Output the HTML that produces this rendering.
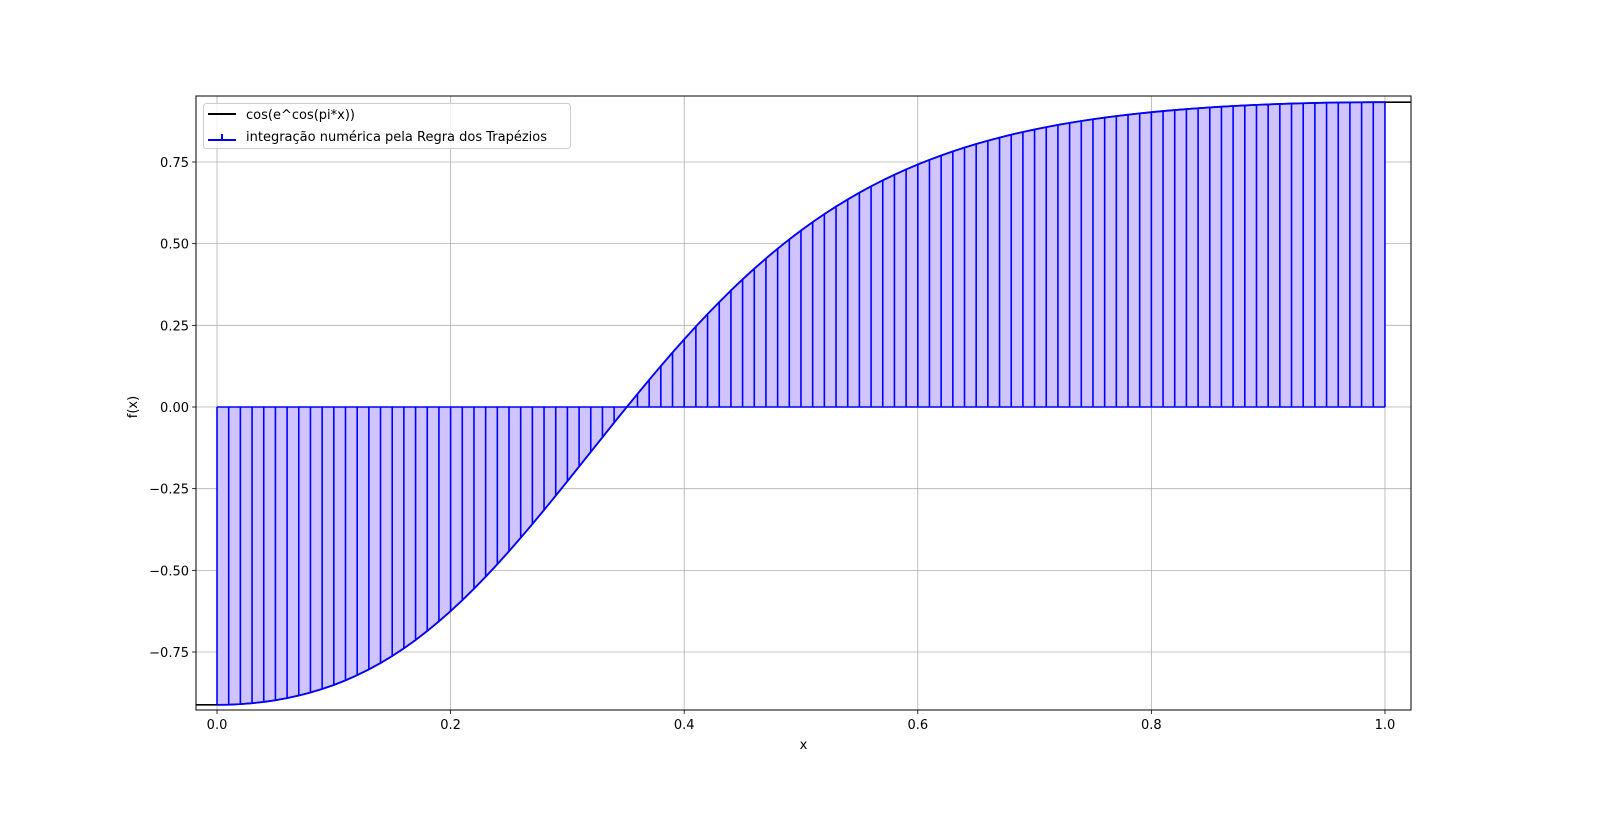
<!DOCTYPE html>
<html><head><meta charset="utf-8"><style>
body{margin:0;background:#fff}
svg text{font-family:"DejaVu Sans","Liberation Sans",sans-serif;font-size:13px;fill:#000}
</style></head><body>
<svg id="chart" width="1600" height="813" xmlns="http://www.w3.org/2000/svg">
<g id="grid"></g><g id="marks"></g><g id="axes"></g>
<g>
<rect x="203.5" y="103.5" width="367" height="45" rx="3" fill="#fff" fill-opacity="0.8" stroke="#ccc"/>
<line x1="208" y1="114" x2="236" y2="114" stroke="#000" stroke-width="2"/>
<text x="246" y="119">cos(e^cos(pi*x))</text>
<line x1="208" y1="140" x2="236" y2="140" stroke="#00f" stroke-width="2"/>
<line x1="222" y1="134" x2="222" y2="140" stroke="#00f" stroke-width="2"/>
<text x="246" y="141">integração numérica pela Regra dos Trapézios</text>
</g>
</svg>
<script>
const xStart = 0, xStep = 0.01;
const yValues = [-0.9117,-0.9112,-0.9095,-0.9067,-0.9028,-0.8976,-0.8911,-0.8833,-0.8740,-0.8632,
-0.8509,-0.8368,-0.8210,-0.8033,-0.7838,-0.7623,-0.7388,-0.7132,-0.6857,-0.6562,
-0.6248,-0.5915,-0.5564,-0.5197,-0.4813,-0.4415,-0.4005,-0.3584,-0.3153,-0.2716,
-0.2272,-0.1825,-0.1376,-0.0928,-0.0481,-0.0038,0.0400,0.0831,0.1254,0.1668,
0.2072,0.2464,0.2845,0.3212,0.3567,0.3908,0.4235,0.4548,0.4847,0.5132,
0.5403,0.5661,0.5905,0.6136,0.6354,0.6561,0.6755,0.6938,0.7110,0.7272,
0.7424,0.7566,0.7698,0.7824,0.7942,0.8051,0.8152,0.8247,0.8336,0.8419,
0.8496,0.8568,0.8635,0.8697,0.8755,0.8809,0.8859,0.8905,0.8948,0.8988,
0.9025,0.9059,0.9090,0.9119,0.9146,0.9170,0.9193,0.9213,0.9231,0.9248,
0.9263,0.9276,0.9288,0.9298,0.9307,0.9315,0.9320,0.9325,0.9328,0.9330,0.9331];
const xTicks = [0,0.2,0.4,0.6,0.8,1.0];
const xTickLabels = ["0.0","0.2","0.4","0.6","0.8","1.0"];
const yTicks = [-0.75,-0.5,-0.25,0,0.25,0.5,0.75];
const yTickLabels = ["\u22120.75","\u22120.50","\u22120.25","0.00","0.25","0.50","0.75"];

const L=196,R=1411,T=96,B=710;
const xmin=-0.018,xmax=1.0223,ymin=-0.9275,ymax=0.952;
const sx=v=>L+(v-xmin)/(xmax-xmin)*(R-L);
const sy=v=>B-(v-ymin)/(ymax-ymin)*(B-T);
const NS="http://www.w3.org/2000/svg";
function mk(tag,attrs,parent){const e=document.createElementNS(NS,tag);for(const k in attrs)e.setAttribute(k,attrs[k]);parent.appendChild(e);return e;}
const grid=document.getElementById('grid'),marks=document.getElementById('marks'),axes=document.getElementById('axes');

xTicks.forEach((t,i)=>{
  const x=sx(t);
  const g=mk('line',{x1:x,y1:T,x2:x,y2:B,stroke:'#b0b0b0','stroke-width':0.8},grid);
  
  
  mk('line',{x1:x,y1:B,x2:x,y2:B+4,stroke:'#000','stroke-width':0.8},axes);
  const tx=mk('text',{x:x,y:B+19,'text-anchor':'middle'},axes);tx.textContent=xTickLabels[i];
  
  
});
yTicks.forEach((t,i)=>{
  const y=sy(t);
  const g=mk('line',{x1:L,y1:y,x2:R,y2:y,stroke:'#b0b0b0','stroke-width':0.8},grid);
  
  
  mk('line',{x1:L-4,y1:y,x2:L,y2:y,stroke:'#000','stroke-width':0.8},axes);
  const tx=mk('text',{x:L-7,y:y+5,'text-anchor':'end'},axes);tx.textContent=yTickLabels[i];
  
  
});

const xs=yValues.map((_,i)=>xStart+i*xStep);
// trapezoids
for(let i=0;i<yValues.length-1;i++){
  const x0=sx(xs[i]),x1=sx(xs[i+1]),y0=sy(yValues[i]),y1=sy(yValues[i+1]),z=sy(0);
  const p=mk('polygon',{points:`${x0},${z} ${x0},${y0} ${x1},${y1} ${x1},${z}`,fill:'#d0c4ff',stroke:'none'},marks);
  
  
}
for(let i=0;i<yValues.length;i++){
  const x=sx(xs[i]);
  const v=mk('line',{x1:x,y1:sy(0),x2:x,y2:sy(yValues[i]),stroke:'#00f','stroke-width':1.6},marks);
  
  
}
const zl=mk('line',{x1:sx(xs[0]),y1:sy(0),x2:sx(xs[xs.length-1]),y2:sy(0),stroke:'#00f','stroke-width':1.6},marks);


// function curve (extended flat to axes edges)
let pts=[[L,sy(yValues[0])]];
xs.forEach((x,i)=>pts.push([sx(x),sy(yValues[i])]));
pts.push([R,sy(yValues[yValues.length-1])]);
const fl=mk('polyline',{points:pts.map(p=>p.join(',')).join(' '),fill:'none',stroke:'#000','stroke-width':1.6},marks);


const tp=mk('polyline',{points:xs.map((x,i)=>sx(x)+','+sy(yValues[i])).join(' '),fill:'none',stroke:'#00f','stroke-width':1.8},marks);



const fr=mk('rect',{x:L,y:T,width:R-L,height:B-T,fill:'none',stroke:'#000','stroke-width':1},axes);


const xl=mk('text',{x:(L+R)/2,y:B+39,'text-anchor':'middle'},axes);xl.textContent='x';


const yl=mk('text',{x:137,y:sy(0),'text-anchor':'middle',transform:`rotate(-90 137 ${sy(0)})`},axes);yl.textContent='f(x)';


</script>
</body></html>
